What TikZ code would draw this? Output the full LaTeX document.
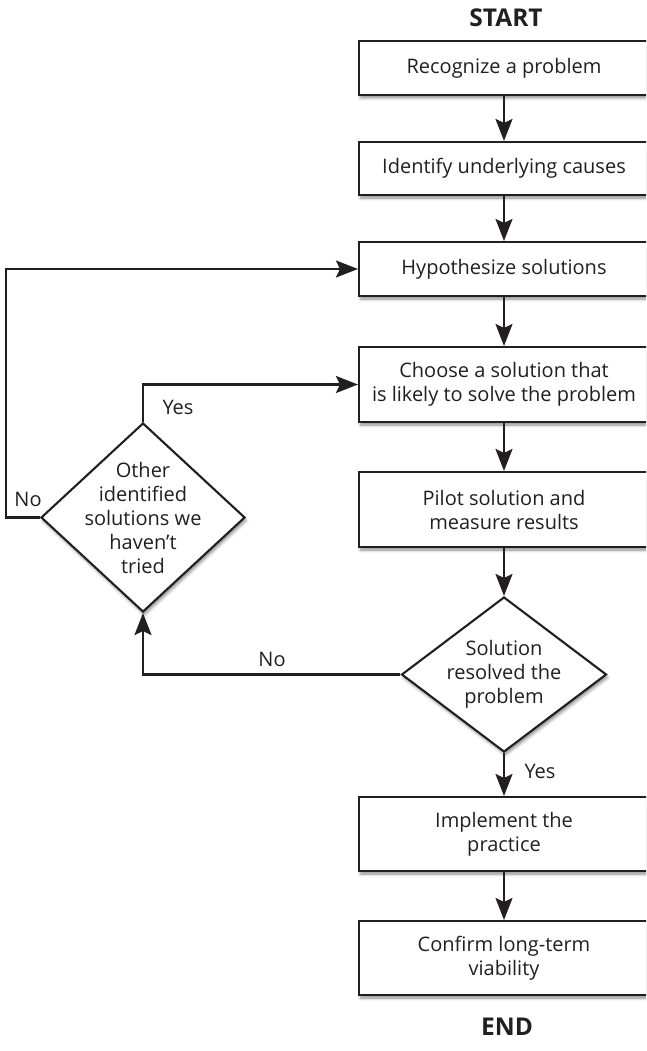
\documentclass[tikz,border=0pt]{standalone}
\usepackage{fontspec}
\setmainfont{Open Sans}
\usetikzlibrary{shapes.geometric,arrows.meta,shadows.blur}
\definecolor{ink}{RGB}{35,31,32}
\begin{document}
\begin{tikzpicture}[x=1pt,y=-1pt,
  txt/.style={font=\fontsize{20}{24}\selectfont, text=ink},
  stepbox/.style={txt, draw=ink, line width=2.1pt, fill=white,
    minimum width=290, align=center, inner sep=0pt,
    blur shadow={shadow xshift=1.5pt, shadow yshift=-3pt,
      shadow blur radius=3pt, shadow opacity=45}},
  decision/.style={diamond, draw=ink, line width=2.1pt, fill=white,
    inner sep=0pt,
    blur shadow={shadow xshift=1.5pt, shadow yshift=-3pt,
      shadow blur radius=3pt, shadow opacity=45}},
  conn/.style={draw=ink, line width=2.1pt,
    -{Stealth[length=22pt, width=17pt, inset=4pt]}},
  title/.style={font=\bfseries\fontsize{24.5}{28}\selectfont, text=ink}]

% page frame
\useasboundingbox (0,0) rectangle (646,1051);
\clip (0,0) rectangle (646,1051);

% terminals
\node[title] (start) at (506,18) {START};
\node[title] (end) at (507,1027) {END};

% process steps
\node[stepbox, minimum height=54] (b1) at (504,68) {Recognize a problem};
\node[stepbox, minimum height=53] (b2) at (504,168.5) {Identify underlying causes};
\node[stepbox, minimum height=54] (b3) at (504,269) {Hypothesize solutions};
\node[stepbox, minimum height=75] (b4) at (504,384.5) {Choose a solution that\\is likely to solve the problem};
\node[stepbox, minimum height=75] (b5) at (504,509.5) {Pilot solution and\\measure results};
\node[stepbox, minimum height=74] (b6) at (504,834) {Implement the\\practice};
\node[stepbox, minimum height=74] (b7) at (504,958) {Confirm long-term\\viability};

% decisions
\node[decision, minimum width=205, minimum height=155] (d2) at (504,674.5) {};
\node[txt, align=center] (d2t) at (d2) {Solution\\resolved the\\problem};
\node[decision, minimum width=204, minimum height=189] (d1) at (143,517.5) {};
\node[txt, align=center] (d1t) at (d1) {Other\\identified\\solutions we\\haven’t\\tried};

% main flow
\draw[conn] (b1) -- (b2);
\draw[conn] (b2) -- (b3);
\draw[conn] (b3) -- (b4);
\draw[conn] (b4) -- (b5);
\draw[conn] (b5) -- (d2);
\draw[conn] (d2) -- (b6);
\draw[conn] (b6) -- (b7);

% loops back
\draw[conn] (d2.west) -| (d1.south);
\draw[conn] (d1.north) |- (b4.west);
\coordinate (lp) at (6,517.5);
\draw[conn] (d1.west) -- (lp) |- (b3.west);

% branch labels
\node[txt] (lno1) at (28,499) {No};
\node[txt] (lyes1) at (178,407) {Yes};
\node[txt] (lno2) at (272,659) {No};
\node[txt] (lyes2) at (540,771) {Yes};
\end{tikzpicture}
\end{document}
